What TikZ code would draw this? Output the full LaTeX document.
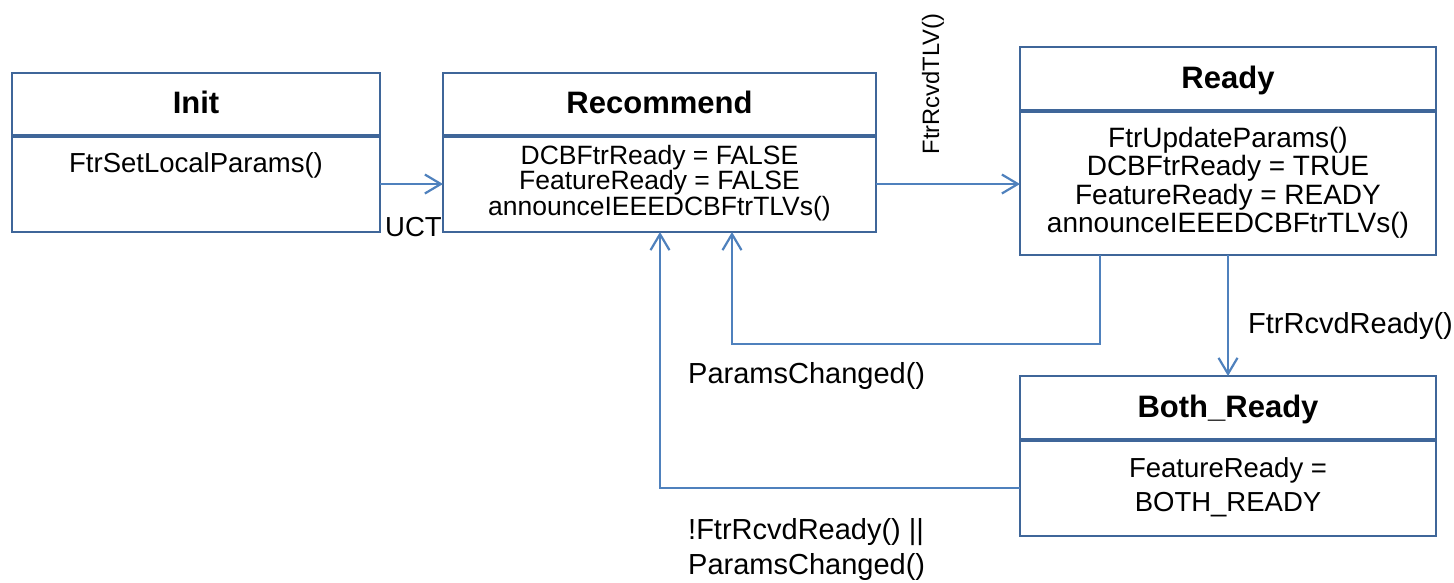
\documentclass[tikz,border=0pt]{standalone}
\usepackage{fontspec}
\setmainfont{Liberation Sans}
\usepackage{tikz}
\usetikzlibrary{arrows.meta,positioning}
\definecolor{StateBlue}{HTML}{3F6699}
\definecolor{LinkBlue}{HTML}{4F81BD}
\tikzset{
  statebox/.style={draw=StateBlue,line width=2.6pt,fill=white,inner sep=0pt,outer sep=0pt},
  statetitle/.style={anchor=base,inner sep=0pt,font=\fontsize{31}{33}\selectfont\bfseries},
  statebody/.style={anchor=north,inner sep=0pt,align=center},
  divider/.style={draw=StateBlue,line width=4pt},
  trans/.style={-{Straight Barb[length=16pt,width=19pt]},line width=2.2pt,draw=LinkBlue},
  translabel/.style={inner sep=0pt,font=\fontsize{29}{39}\selectfont}
}
\begin{document}
\begin{tikzpicture}[x=1pt,y=-1pt]
  \useasboundingbox (0,0) rectangle (1454,582);
  \node[statebox,minimum width=368pt,minimum height=159pt] (init) at (196,152.5) {};
  \node[statebox,minimum width=433pt,minimum height=159pt] (rec) at (659.5,152.5) {};
  \node[statebox,minimum width=416pt,minimum height=208pt] (ready) at (1228,151) {};
  \node[statebox,minimum width=416pt,minimum height=160pt] (both) at (1228,456) {};
  \foreach \s/\d in {init/63,rec/63,ready/64,both/64}
    \draw[divider] ([yshift=-\d pt]\s.north west) -- ([yshift=-\d pt]\s.north east);
  \node[statetitle] (inittitle) at (196,113) {Init};
  \node[statetitle] (rectitle) at (659.5,113) {Recommend};
  \node[statetitle] (readytitle) at (1228,88) {Ready};
  \node[statetitle] (bothtitle) at (1228,417) {Both\_Ready};
  \node[statebody,font=\fontsize{27.5}{26}\selectfont] (initbody) at (196,152) {FtrSetLocalParams()};
  \node[statebody,font=\fontsize{26.5}{25.5}\selectfont] (recbody) at (659.5,145)
    {DCBFtrReady = FALSE\\FeatureReady = FALSE\\announceIEEEDCBFtrTLVs()};
  \node[statebody,font=\fontsize{28}{28.5}\selectfont] (readybody) at (1228,127)
    {FtrUpdateParams()\\DCBFtrReady = TRUE\\FeatureReady = READY\\announceIEEEDCBFtrTLVs()};
  \node[statebody,font=\fontsize{27.5}{34}\selectfont] (bothbody) at (1228,457)
    {FeatureReady =\\BOTH\_READY};
  \draw[trans] (init.east |- 0,184) -- (rec.west |- 0,184);
  \node[translabel,anchor=base west,font=\fontsize{27.5}{30}\selectfont] (uct) at (385,236) {UCT};
  \draw[trans] (rec.east |- 0,184) -- (ready.west |- 0,184);
  \node[translabel,rotate=90,font=\fontsize{23.7}{26}\selectfont] (tlvlabel) at (933,84) {FtrRcvdTLV()};
  \draw[trans] (ready.south -| 1100,0) |- (732,344) -- (rec.south -| 732,0);
  \node[translabel,anchor=base west] (changedlabel) at (688,383) {ParamsChanged()};
  \draw[trans] (ready.south) -- (both.north);
  \node[translabel,anchor=base west] (rcvdlabel) at (1248,333) {FtrRcvdReady()};
  \draw[trans] (both.west |- 0,488) -| (rec.south -| 660,0);
  \node[translabel,anchor=north west,align=left,font=\fontsize{29}{35}\selectfont] (backlabel) at (688,518)
    {!FtrRcvdReady() ||\\ParamsChanged()};
\end{tikzpicture}
\end{document}
